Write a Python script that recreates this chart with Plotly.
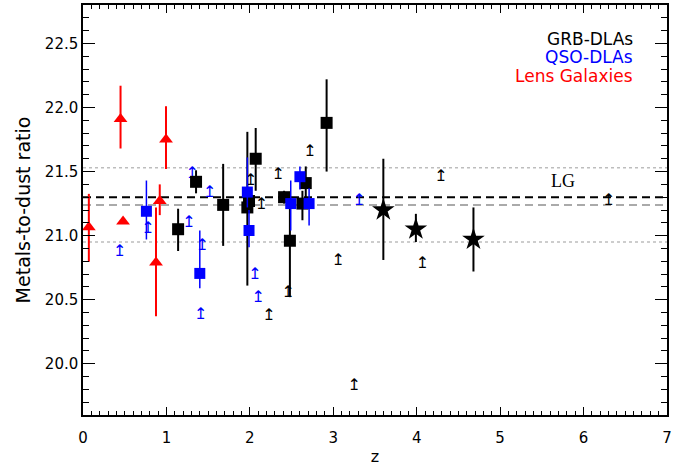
import plotly.graph_objects as go

# ---- data ----
grb_x = [1.14, 1.355, 1.68, 1.97, 1.99, 2.07, 2.41, 2.48, 2.63, 2.67, 2.92]
grb_y = [21.05, 21.42, 21.24, 21.22, 21.27, 21.60, 21.30, 20.96, 21.25, 21.41, 21.88]
grb_up = [0.16, 0.09, 0.32, 0.59, 0.05, 0.24, 0.05, 0.30, 0.10, 0.13, 0.34]
grb_dn = [0.17, 0.09, 0.32, 0.61, 0.05, 0.25, 0.05, 0.44, 0.13, 0.15, 0.38]

star_x = [3.60, 3.99, 4.68]
star_y = [21.20, 21.05, 20.97]
star_up = [0.40, 0.12, 0.25]
star_dn = [0.39, 0.10, 0.25]

qso_x = [0.76, 1.40, 1.97, 1.99, 2.49, 2.60, 2.71]
qso_y = [21.19, 20.705, 21.34, 21.04, 21.25, 21.46, 21.25]
qso_up = [0.24, 0.335, 0.27, 0.16, 0.18, 0.08, 0.12]
qso_dn = [0.22, 0.115, 0.12, 0.13, 0.21, 0.10, 0.17]

lens_x = [0.07, 0.45, 0.48, 0.875, 0.92, 0.995]
lens_y = [21.066, 21.91, 21.11, 20.79, 21.27, 21.75]
lens_up = [0.26, 0.26, 0.0, 0.43, 0.13, 0.26]
lens_dn = [0.27, 0.23, 0.0, 0.42, 0.11, 0.23]

qso_lim_x = [0.44, 0.78, 1.27, 1.31, 1.41, 1.43, 1.52, 2.06, 2.10, 3.31]
qso_lim_y = [20.87, 21.05, 21.10, 21.48, 20.38, 20.92, 21.33, 20.69, 20.51, 21.27]

grb_lim_x = [2.01, 2.14, 2.23, 2.34, 2.46, 2.72, 3.06, 3.25, 4.07, 4.29, 6.30]
grb_lim_y = [21.43, 21.24, 20.37, 21.47, 20.55, 21.65, 20.80, 19.83, 20.78, 21.46, 21.27]

lg_value = 21.30
lg_alt = 21.24
lg_band = [21.53, 20.95]
x_span = [0, 7]

x_ticks = [0, 1, 2, 3, 4, 5, 6, 7]
y_ticks = [20.0, 20.5, 21.0, 21.5, 22.0, 22.5]
y_tick_text = ["20.0", "20.5", "21.0", "21.5", "22.0", "22.5"]

legend_labels = ["GRB-DLAs", "QSO-DLAs", "Lens Galaxies"]
legend_colors = ["black", "blue", "red"]

BLUE = "#0000ff"
RED = "#ff0000"
FONT = "DejaVu Sans"

fig = go.Figure()

# reference lines
for yv in lg_band:
    fig.add_trace(go.Scatter(x=x_span, y=[yv, yv], mode="lines",
                             line=dict(color="#bdbdbd", width=1.5, dash="dot"),
                             hoverinfo="skip", showlegend=False))
fig.add_trace(go.Scatter(x=x_span, y=[lg_alt, lg_alt], mode="lines",
                         line=dict(color="#aaaaaa", width=2, dash="8px,5px"),
                         hoverinfo="skip", showlegend=False))
fig.add_trace(go.Scatter(x=x_span, y=[lg_value, lg_value], mode="lines",
                         line=dict(color="black", width=2, dash="8px,5px"),
                         hoverinfo="skip", showlegend=False))

# lower limits (arrows)
fig.add_trace(go.Scatter(x=qso_lim_x, y=qso_lim_y, mode="text",
                         text=["↥"] * len(qso_lim_x),
                         textfont=dict(color=BLUE, size=16, family=FONT),
                         showlegend=False))
fig.add_trace(go.Scatter(x=grb_lim_x, y=grb_lim_y, mode="text",
                         text=["↥"] * len(grb_lim_x),
                         textfont=dict(color="black", size=16, family=FONT),
                         showlegend=False))

# lens galaxies
fig.add_trace(go.Scatter(x=lens_x, y=lens_y, mode="markers",
                         marker=dict(symbol="triangle-up", size=12, color=RED),
                         error_y=dict(type="data", symmetric=False, array=lens_up,
                                      arrayminus=lens_dn, width=0, thickness=2, color=RED),
                         showlegend=False))
# GRB squares
fig.add_trace(go.Scatter(x=grb_x, y=grb_y, mode="markers",
                         marker=dict(symbol="square", size=12, color="black"),
                         error_y=dict(type="data", symmetric=False, array=grb_up,
                                      arrayminus=grb_dn, width=0, thickness=2, color="black"),
                         showlegend=False))
# QSO squares
fig.add_trace(go.Scatter(x=qso_x, y=qso_y, mode="markers",
                         marker=dict(symbol="square", size=11, color=BLUE),
                         error_y=dict(type="data", symmetric=False, array=qso_up,
                                      arrayminus=qso_dn, width=0, thickness=1.5, color=BLUE),
                         showlegend=False))
# GRB stars
fig.add_trace(go.Scatter(x=star_x, y=star_y, mode="markers",
                         marker=dict(symbol="star", size=17, color="black"),
                         error_y=dict(type="data", symmetric=False, array=star_up,
                                      arrayminus=star_dn, width=0, thickness=2, color="black"),
                         showlegend=False))

# LG label
fig.add_annotation(x=5.75, y=21.43, text="LG", showarrow=False,
                   font=dict(family="Liberation Serif", size=18, color="black"))

# legend text
for i, (lab, col) in enumerate(zip(legend_labels, legend_colors)):
    fig.add_annotation(xref="paper", yref="paper", x=0.945, y=0.918 - i * 0.045,
                       xanchor="right", yanchor="middle", text=lab, showarrow=False,
                       font=dict(family=FONT, size=17, color=col))

axis_common = dict(showgrid=False, zeroline=False, showline=True, linecolor="black",
                   linewidth=1.5, mirror="ticks", ticks="inside", tickcolor="black",
                   tickwidth=1, tickfont=dict(family=FONT, size=15, color="black"))

fig.update_xaxes(range=x_span, tickvals=x_ticks, ticklen=8, ticklabelstandoff=8,
                 minor=dict(dtick=0.1, ticklen=4, ticks="inside", tickcolor="black"),
                 title=dict(text="z", font=dict(family=FONT, size=16, color="black"), standoff=5),
                 **axis_common)
fig.update_yaxes(range=[19.6, 22.8], tickvals=y_ticks, ticktext=y_tick_text, ticklen=12,
                 minor=dict(dtick=0.1, ticklen=6, ticks="inside", tickcolor="black"),
                 title=dict(text="Metals-to-dust ratio", font=dict(family=FONT, size=19, color="black"),
                            standoff=9),
                 **axis_common)

fig.update_layout(width=691, height=466, margin=dict(l=83, r=24, t=3, b=50),
                  plot_bgcolor="white", paper_bgcolor="white")

fig.write_html("out.html")
